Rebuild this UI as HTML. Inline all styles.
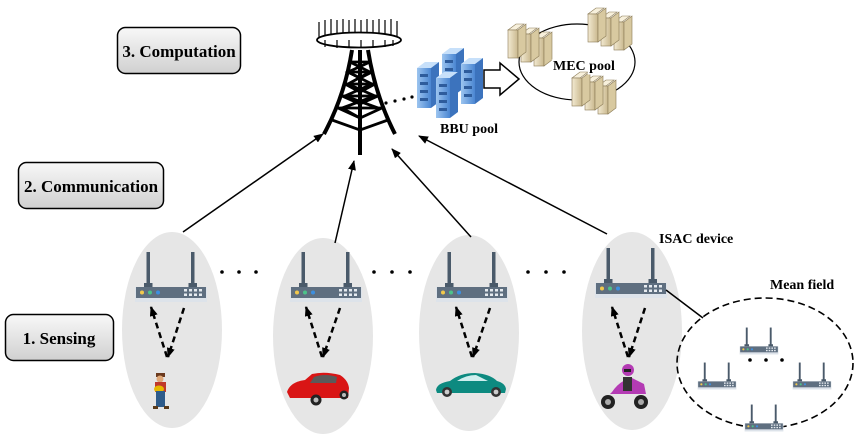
<!DOCTYPE html>
<html><head><meta charset="utf-8"><style>
html,body{margin:0;padding:0;background:#fff}
svg{display:block}
text{font-family:"Liberation Serif",serif;font-weight:bold;fill:#000}
</style></head><body>
<svg width="858" height="438" viewBox="0 0 858 438" xmlns="http://www.w3.org/2000/svg">
<defs>
<linearGradient id="bx" x1="0" y1="0" x2="0" y2="1"><stop offset="0" stop-color="#f8f8f8"/><stop offset="1" stop-color="#d0d0d0"/></linearGradient>
<linearGradient id="sv" x1="0" y1="0" x2="1" y2="0"><stop offset="0" stop-color="#f3ead2"/><stop offset="1" stop-color="#c9b88e"/></linearGradient>
<linearGradient id="bb" x1="0" y1="0" x2="1" y2="0"><stop offset="0" stop-color="#9cc4ef"/><stop offset="1" stop-color="#4a86d2"/></linearGradient>
<marker id="ah" markerWidth="10" markerHeight="8" refX="9" refY="4" orient="auto" markerUnits="userSpaceOnUse"><path d="M0,0 L10,4 L0,8 z" fill="#000"/></marker>
<symbol id="rt" viewBox="0 -36 70 52" overflow="visible">
<rect x="10.5" y="-35" width="3.5" height="32" fill="#4a5a6a"/><rect x="8" y="-4" width="8.5" height="4" fill="#4a5a6a"/>
<rect x="55" y="-35" width="3.5" height="32" fill="#4a5a6a"/><rect x="52.5" y="-4" width="8.5" height="4" fill="#4a5a6a"/>
<rect x="-1" y="0" width="72" height="15" fill="#dde3ea"/>
<rect x="0" y="0" width="70" height="11" fill="#5f6f80"/>
<circle cx="6" cy="5.5" r="2" fill="#f2c94c"/><circle cx="14" cy="5.5" r="2" fill="#4cc38a"/><circle cx="22" cy="5.5" r="2" fill="#3d8fe0"/>
<g fill="#e6ebf0"><rect x="48" y="2" width="3" height="2.5"/><rect x="53" y="2" width="3" height="2.5"/><rect x="58" y="2" width="3" height="2.5"/><rect x="63" y="2" width="3" height="2.5"/>
<rect x="48" y="6.5" width="3" height="2.5"/><rect x="53" y="6.5" width="3" height="2.5"/><rect x="58" y="6.5" width="3" height="2.5"/><rect x="63" y="6.5" width="3" height="2.5"/></g>
</symbol>
<symbol id="srv" overflow="visible">
<g stroke="#8a7a55" stroke-width="0.6">
<path d="M0,8 l8,-6 h8 l-8,6z" fill="#f7f0dc"/><rect x="0" y="8" width="10" height="28" fill="url(#sv)"/>
<path d="M13,12 l8,-6 h8 l-8,6z" fill="#f7f0dc"/><rect x="13" y="12" width="10" height="28" fill="url(#sv)"/>
<path d="M26,16 l8,-6 h8 l-8,6z" fill="#f7f0dc"/><rect x="26" y="16" width="10" height="28" fill="url(#sv)"/>
<path d="M10,8 l8,-6 v28 l-8,6z M23,12 l8,-6 v28 l-8,6z M36,16 l8,-6 v28 l-8,6z" fill="#d8c9a0"/></g>
</symbol>
<symbol id="bbs" overflow="visible">
<path d="M0,6 l8,-6 h14 l-8,6z" fill="#c7e0fa"/><rect x="0" y="6" width="14" height="40" fill="url(#bb)"/>
<path d="M14,6 l8,-6 v40 l-8,6z" fill="#3c73bd"/>
<g fill="#2e5c9c"><rect x="3" y="12" width="8" height="3"/><rect x="3" y="20" width="8" height="3"/><rect x="3" y="28" width="8" height="3"/><rect x="3" y="36" width="8" height="3"/></g>
</symbol>
</defs>

<rect x="117.5" y="27.5" width="123" height="46" rx="8" fill="url(#bx)" stroke="#000" stroke-width="1.5"/>
<text x="179" y="57" font-size="17" text-anchor="middle">3. Computation</text>
<rect x="18.5" y="162.5" width="145" height="46" rx="8" fill="url(#bx)" stroke="#000" stroke-width="1.5"/>
<text x="91" y="192" font-size="17" text-anchor="middle">2. Communication</text>
<rect x="5.5" y="314.5" width="108" height="46" rx="8" fill="url(#bx)" stroke="#000" stroke-width="1.5"/>
<text x="59" y="344" font-size="17" text-anchor="middle">1. Sensing</text>

<g stroke="#000" fill="none">
<g stroke-width="1.2">
<path d="M319,40 V22 M325,40 V20 M331,40 V19 M337,40 V20 M343,40 V19 M349,40 V20 M355,40 V19 M361,40 V20 M367,40 V19 M373,40 V20 M379,40 V19 M385,40 V20 M391,40 V19 M397,40 V21"/>
</g>
<ellipse cx="359" cy="40" rx="42" ry="7.5" fill="#fff" stroke-width="1.8"/>
<g stroke-width="1.2"><path d="M325,40 V47 M337,40 V48 M349,40 V48 M361,40 V48 M373,40 V48 M385,40 V47 M393,40 V46"/></g>
<g stroke-width="4" stroke-linecap="butt">
<path d="M352,50 Q345,95 324,134"/><path d="M368,50 Q375,95 395,134"/>
<path d="M360,50 V155"/>
</g>
<g stroke-width="2.8">
<path d="M350,62 H370 M348,72 H372 M345,84 H375 M342,96 H378 M338,108 H382"/>
<path d="M350,62 L370,72 L348,84 L375,96 L342,108 L360,118 L382,108 M370,62 L348,72 L372,84 L345,96 L378,108 M338,108 L360,118"/>
<path d="M332,120 L360,130 L388,120"/>
<path d="M348,72 L360,78 L372,72 M345,84 L360,92 L375,84 M342,96 L360,104 L378,96"/>
</g>
</g>
<g fill="#000"><circle cx="386" cy="103" r="1.6"/><circle cx="395" cy="101" r="1.6"/><circle cx="404" cy="99" r="1.6"/><circle cx="412" cy="97" r="1.6"/></g>
<use href="#bbs" x="442" y="48"/>
<use href="#bbs" x="417" y="62"/>
<use href="#bbs" x="461" y="58"/>
<use href="#bbs" x="436" y="72"/>
<text x="440" y="133" font-size="14">BBU  pool</text>
<path d="M484,70 H500 V63 L519,79 L500,95 V88 H484 Z" fill="#fff" stroke="#000" stroke-width="1.5"/>
<ellipse cx="577" cy="62" rx="58" ry="38" fill="none" stroke="#000" stroke-width="1.2"/>
<use href="#srv" x="508" y="22"/>
<use href="#srv" x="588" y="6"/>
<use href="#srv" x="572" y="70"/>
<text x="553" y="70" font-size="14" style="paint-order:stroke" stroke="#fff" stroke-width="3">MEC  pool</text>

<g fill="#e6e6e6">
<ellipse cx="172" cy="330" rx="50" ry="98"/>
<ellipse cx="323" cy="336" rx="50" ry="98"/>
<ellipse cx="469" cy="333" rx="50" ry="98"/>
<ellipse cx="632" cy="331" rx="50" ry="99"/>
</g>
<g stroke="#000" stroke-width="1.5" marker-end="url(#ah)">
<line x1="183" y1="232" x2="323" y2="134"/>
<line x1="335" y1="243" x2="354" y2="161"/>
<line x1="471" y1="237" x2="392" y2="149"/>
<line x1="607" y1="234" x2="419" y2="136"/>
</g>
<use href="#rt" x="136" y="251" width="70" height="52"/>
<use href="#rt" x="291" y="251" width="70" height="52"/>
<use href="#rt" x="437" y="251" width="70" height="52"/>
<use href="#rt" x="596" y="247" width="70" height="52"/>
<g stroke="#000" stroke-width="2.5" stroke-dasharray="6,4" marker-end="url(#ah)" fill="none">
<line x1="167" y1="357" x2="151" y2="307"/><line x1="184" y1="308" x2="168" y2="357"/>
<line x1="322" y1="357" x2="306" y2="307"/><line x1="340" y1="308" x2="323" y2="357"/>
<line x1="472" y1="357" x2="456" y2="307"/><line x1="490" y1="308" x2="473" y2="357"/>
<line x1="628" y1="357" x2="612" y2="307"/><line x1="645" y1="308" x2="629" y2="357"/>
</g>
<g fill="#000">
<circle cx="222" cy="272" r="1.8"/><circle cx="239" cy="272" r="1.8"/><circle cx="256" cy="272" r="1.8"/>
<circle cx="374" cy="272" r="1.8"/><circle cx="392" cy="272" r="1.8"/><circle cx="410" cy="272" r="1.8"/>
<circle cx="528" cy="272" r="1.8"/><circle cx="546" cy="272" r="1.8"/><circle cx="564" cy="272" r="1.8"/>
</g>
<g>
<rect x="156" y="373" width="9" height="4" fill="#6b3a1e"/><circle cx="160" cy="379" r="3.5" fill="#e0a878"/>
<rect x="155" y="382" width="11" height="10" fill="#c0392b"/>
<ellipse cx="159" cy="389" rx="5" ry="3.5" fill="#e6b800"/>
<rect x="156" y="391" width="9" height="16" fill="#2e5b8a"/>
<rect x="153" y="406" width="5" height="3" fill="#5a3a1a"/><rect x="164" y="406" width="5" height="3" fill="#5a3a1a"/>
</g>
<g>
<path d="M287,392 Q290,382 305,380 L312,374 Q325,371 340,375 Q348,380 349,388 L348,398 H290 Z" fill="#d91515"/>
<path d="M314,377 Q325,373 337,377 L336,383 H310 Z" fill="#5a5a5a"/>
<circle cx="316" cy="400" r="5.5" fill="#222"/><circle cx="316" cy="400" r="2.5" fill="#bbb"/>
<circle cx="344" cy="395" r="4.5" fill="#222"/><circle cx="344" cy="395" r="2" fill="#bbb"/>
</g>
<g>
<path d="M436,390 Q437,383 450,381 Q460,373 475,373 Q490,374 497,381 Q505,383 506,389 L505,393 H437 Z" fill="#0d8a80"/>
<path d="M457,381 Q466,375 476,375 L488,381 Z" fill="#cfeeee"/>
<circle cx="447" cy="392" r="5" fill="#333"/><circle cx="447" cy="392" r="2.4" fill="#ccc"/>
<circle cx="496" cy="392" r="5" fill="#333"/><circle cx="496" cy="392" r="2.4" fill="#ccc"/>
</g>
<g>
<circle cx="628" cy="370" r="6" fill="#b43bb4"/><rect x="624" y="369" width="7" height="3" fill="#222"/>
<path d="M612,392 Q620,380 632,378 L644,384 L646,394 H610 Z" fill="#b43bb4"/>
<rect x="623" y="377" width="9" height="14" fill="#333"/>
<circle cx="608" cy="402" r="7" fill="#222"/><circle cx="608" cy="402" r="3" fill="#aaa"/>
<circle cx="641" cy="402" r="7" fill="#222"/><circle cx="641" cy="402" r="3" fill="#aaa"/>
</g>

<text x="659" y="243" font-size="14">ISAC device</text>
<text x="770" y="289" font-size="14">Mean field</text>
<line x1="666" y1="290" x2="703" y2="318" stroke="#000" stroke-width="1.5"/>
<ellipse cx="765" cy="363" rx="88" ry="65" fill="none" stroke="#000" stroke-width="1.6" stroke-dasharray="7,4"/>
<use href="#rt" x="740" y="327" width="38" height="28" viewBox="0 -36 70 52"/>
<use href="#rt" x="698" y="362" width="38" height="28" viewBox="0 -36 70 52"/>
<use href="#rt" x="793" y="362" width="38" height="28" viewBox="0 -36 70 52"/>
<use href="#rt" x="745" y="404" width="38" height="28" viewBox="0 -36 70 52"/>
<g fill="#000"><circle cx="750" cy="360" r="1.8"/><circle cx="766" cy="360" r="1.8"/><circle cx="782" cy="360" r="1.8"/></g>
</svg>
</body></html>
